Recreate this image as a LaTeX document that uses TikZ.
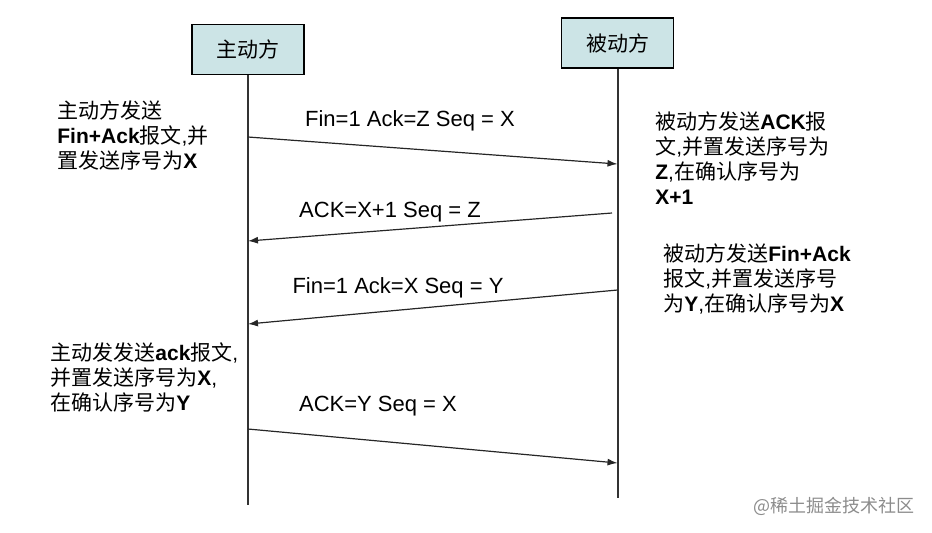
\documentclass[tikz,border=0pt]{standalone}
\usepackage{fontspec}
\setmainfont{Liberation Sans}
\newfontfamily\cjk{Noto Sans CJK SC}
\newcommand{\zh}[1]{{\cjk #1}}
\usetikzlibrary{arrows.meta}
\definecolor{boxfill}{RGB}{204,228,230}
\tikzset{
  party/.style={draw, thick, fill=boxfill, minimum width=56pt, minimum height=25pt,
    font=\cjk\fontsize{10.5}{12.5}\selectfont},
  life/.style={line width=1pt, draw=black!80},
  msg/.style={-{Latex[length=5pt,width=3.5pt]}, line width=0.6pt, draw=black!85},
  note/.style={anchor=north west, align=left, inner sep=0pt,
    font=\fontsize{10.5}{12.5}\selectfont},
  lbl/.style={inner sep=0pt, font=\fontsize{11}{13}\selectfont}
}
\begin{document}
\begin{tikzpicture}[x=0.5pt, y=-0.5pt]
  \useasboundingbox (0,0) rectangle (932,532);
  % the two parties
  \node[party] (act) at (248,49.5) {主动方};
  \node[party] (pas) at (617.5,43) {被动方};
  \coordinate (actEnd) at (248,505);
  \coordinate (pasEnd) at (617.5,498);
  \draw[life] (act.south) -- (actEnd);
  \draw[life] (pas.south) -- (pasEnd);

  % points on the lifelines
  \coordinate (a1) at (248,137);   \coordinate (b1) at (617.5,164);
  \coordinate (b2) at (612,213);   \coordinate (a2) at (248,241);
  \coordinate (b3) at (617.5,290); \coordinate (a3) at (248,324);
  \coordinate (a4) at (248,429);   \coordinate (b4) at (617.5,463);

  % messages
  \draw[msg] (a1) -- (b1);
  \draw[msg] (b2) -- (a2);
  \draw[msg] (b3) -- (a3);
  \draw[msg] (a4) -- (b4);
  \node[lbl] (m1) at (410,121) {Fin=1 Ack=Z Seq = X};
  \node[lbl] (m2) at (390,212) {ACK=X+1 Seq = Z};
  \node[lbl] (m3) at (398,288) {Fin=1 Ack=X Seq = Y};
  \node[lbl] (m4) at (378,406) {ACK=Y Seq = X};

  % notes
  \node[note] (n1) at (57,100) {\zh{主动方发送}\\
    \textbf{Fin+Ack}\zh{报文},\zh{并}\\
    \zh{置发送序号为}\textbf{X}};
  \node[note] (n2) at (655,111) {\zh{被动方发送}\textbf{ACK}\zh{报}\\
    \zh{文},\zh{并置发送序号为}\\
    \textbf{Z},\zh{在确认序号为}\\
    \textbf{X+1}};
  \node[note] (n3) at (663,243) {\zh{被动方发送}\textbf{Fin+Ack}\\
    \zh{报文},\zh{并置发送序号}\\
    \zh{为}\textbf{Y},\zh{在确认序号为}\textbf{X}};
  \node[note] (n4) at (50,342) {\zh{主动发发送}\textbf{ack}\zh{报文},\\
    \zh{并置发送序号为}\textbf{X},\\
    \zh{在确认序号为}\textbf{Y}};

  \node[inner sep=0pt, text=black!45, font=\cjk\fontsize{9}{11}\selectfont] (wm) at (834,506) {@稀土掘金技术社区};
\end{tikzpicture}
\end{document}
